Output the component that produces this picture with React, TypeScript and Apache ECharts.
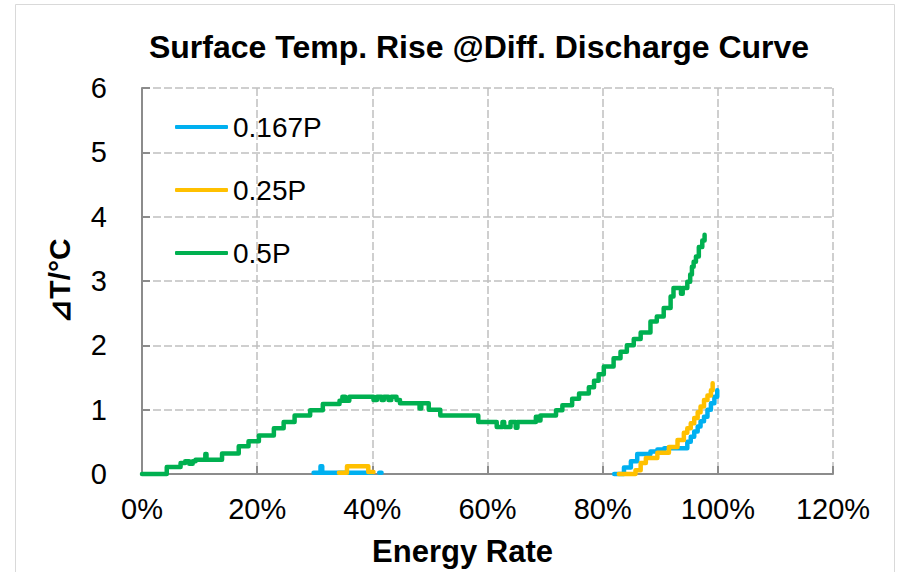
import React, { useEffect, useRef } from "react";
import * as echarts from "echarts";

const titleText = "Surface Temp. Rise @Diff. Discharge Curve";
const xAxisName = "Energy Rate";
const yAxisName = "⊿T/°C";
const seriesNames = ["0.167P", "0.25P", "0.5P"];
const seriesColors = ["#00B0F0", "#FFC000", "#00B050"];

// 0.5P
const greenX = [0, 4.3, 6.7, 7.5, 8.2, 8.8, 9.3, 11.0, 11.2, 13.9, 16.8, 18.5, 20.3, 22.9, 24.6, 26.5, 29.2, 31.4, 34.3, 34.8, 35.3, 36.0, 40.2, 40.8, 41.6, 42.0, 42.8, 43.3, 44.2, 44.8, 48.2, 48.5, 49.8, 51.8, 58.4, 61.6, 62.6, 62.9, 64.0, 64.9, 65.2, 68.4, 68.8, 69.2, 71.9, 73.0, 74.7, 75.9, 77.6, 78.5, 79.3, 80.2, 81.9, 83.1, 84.2, 85.4, 86.6, 88.3, 89.4, 90.6, 91.8, 92.3, 93.6, 93.9, 94.7, 95.2, 95.5, 95.8, 96.2, 96.7, 97.3, 97.7];
const greenY = [0, 0.11, 0.17, 0.2, 0.16, 0.2, 0.22, 0.31, 0.22, 0.32, 0.43, 0.51, 0.6, 0.71, 0.81, 0.91, 0.99, 1.09, 1.14, 1.2, 1.14, 1.2, 1.15, 1.2, 1.15, 1.2, 1.15, 1.2, 1.15, 1.1, 1.02, 1.1, 1.0, 0.91, 0.81, 0.73, 0.81, 0.73, 0.81, 0.72, 0.81, 0.89, 0.83, 0.91, 0.99, 1.07, 1.17, 1.25, 1.35, 1.45, 1.55, 1.67, 1.8, 1.9, 2.0, 2.1, 2.2, 2.37, 2.45, 2.58, 2.76, 2.89, 2.8, 2.89, 2.99, 3.1, 3.22, 3.3, 3.38, 3.53, 3.63, 3.72];

// 0.167P (null = gap)
const blueX = [29.8, 31.0, 31.3, 40.0, 40.0, 41.2, 41.6, 41.6, 82.0, 83.7, 84.9, 86.0, 88.3, 89.5, 90.7, 94.7, 95.3, 95.9, 96.5, 97.0, 97.6, 98.2, 98.8, 99.4, 99.9];
const blueY = [0.02, 0.12, 0.02, 0.02, null, 0.02, 0.02, null, 0, 0.1, 0.2, 0.31, 0.35, 0.38, 0.4, 0.5, 0.58, 0.66, 0.74, 0.82, 0.89, 1.0, 1.1, 1.2, 1.3];

// 0.25P (null = gap)
const yellowX = [34.2, 35.6, 39.3, 40.2, 40.2, 82.8, 85.7, 86.6, 87.5, 89.5, 91.5, 93.0, 94.1, 94.7, 95.3, 95.9, 96.5, 97.0, 97.6, 98.2, 98.8, 99.1];
const yellowY = [0.02, 0.12, 0.03, 0.03, null, 0, 0.06, 0.17, 0.25, 0.33, 0.42, 0.53, 0.64, 0.71, 0.79, 0.87, 0.96, 1.05, 1.15, 1.22, 1.3, 1.41];

const xMin = 0, xMax = 120, xStep = 20;
const yMin = 0, yMax = 6, yStep = 1;

const pairs = (xs: number[], ys: (number | null)[]) => xs.map((x, i) => [x, ys[i]]);

const FONT = "'Liberation Sans', Arial, sans-serif";

export default function App() {
  const ref = useRef<HTMLDivElement>(null);
  useEffect(() => {
    if (!ref.current) return;
    const chart = echarts.init(ref.current, undefined, { renderer: "svg" });
    const seriesData = [pairs(blueX, blueY), pairs(yellowX, yellowY), pairs(greenX, greenY)];
    chart.setOption({
      animation: false,
      backgroundColor: "#ffffff",
      textStyle: { fontFamily: FONT },
      title: {
        text: titleText,
        left: 474,
        top: 26,
        textAlign: "center",
        textStyle: { fontFamily: FONT, fontWeight: "bold", fontSize: 32, color: "#000" },
      },
      graphic: [
        {
          type: "rect",
          shape: { x: 15.5, y: 4.5, width: 879, height: 580 },
          style: { fill: "none", stroke: "#d9d9d9", lineWidth: 1 },
          silent: true,
        },
      ],
      legend: {
        orient: "vertical",
        left: 175,
        top: 113,
        padding: 0,
        icon: "roundRect",
        itemWidth: 53,
        itemHeight: 4,
        itemGap: 35,
        data: seriesNames,
        textStyle: { fontFamily: FONT, fontSize: 28, color: "#000", padding: [0, 0, 0, 0] },
      },
      grid: { left: 142, top: 88, width: 691, height: 386, containLabel: false },
      xAxis: {
        type: "value",
        min: xMin,
        max: xMax,
        interval: xStep,
        name: xAxisName,
        nameLocation: "middle",
        nameGap: 62,
        nameTextStyle: { fontFamily: FONT, fontWeight: "bold", fontSize: 31, color: "#000", padding: [0, 50, 0, 0] },
        axisLine: { show: true, lineStyle: { color: "#8c8c8c", width: 2 } },
        axisTick: { show: true, inside: true, length: 8, lineStyle: { color: "#8c8c8c", width: 2 } },
        axisLabel: {
          margin: 20,
          fontFamily: FONT,
          fontSize: 29,
          color: "#000",
          formatter: (v: number) => `${v}%`,
        },
        splitLine: { show: true, lineStyle: { color: "#c0c0c0", width: 1.5, type: [8, 3] } },
      },
      yAxis: {
        type: "value",
        min: yMin,
        max: yMax,
        interval: yStep,
        name: yAxisName,
        nameLocation: "middle",
        nameGap: 68,
        nameTextStyle: { fontFamily: FONT, fontWeight: "bold", fontSize: 30, color: "#000" },
        axisLine: { show: true, lineStyle: { color: "#8c8c8c", width: 2 } },
        axisTick: { show: true, inside: true, length: 8, lineStyle: { color: "#8c8c8c", width: 2 } },
        axisLabel: { margin: 35, fontFamily: FONT, fontSize: 29, color: "#000" },
        splitLine: { show: true, lineStyle: { color: "#c0c0c0", width: 1.5, type: [8, 3] } },
      },
      series: seriesNames.map((name, i) => ({
        name,
        type: "line",
        step: "end",
        symbol: "none",
        showSymbol: false,
        connectNulls: false,
        clip: false,
        data: seriesData[i],
        lineStyle: { color: seriesColors[i], width: 4.5, cap: "round", join: "round" },
        itemStyle: { color: seriesColors[i] },
        z: 2 + i,
      })),
    });
    return () => chart.dispose();
  }, []);
  return (
    <div
      ref={ref}
      style={{ position: "fixed", left: 0, top: 0, width: 897, height: 572, background: "#fff" }}
    />
  );
}
